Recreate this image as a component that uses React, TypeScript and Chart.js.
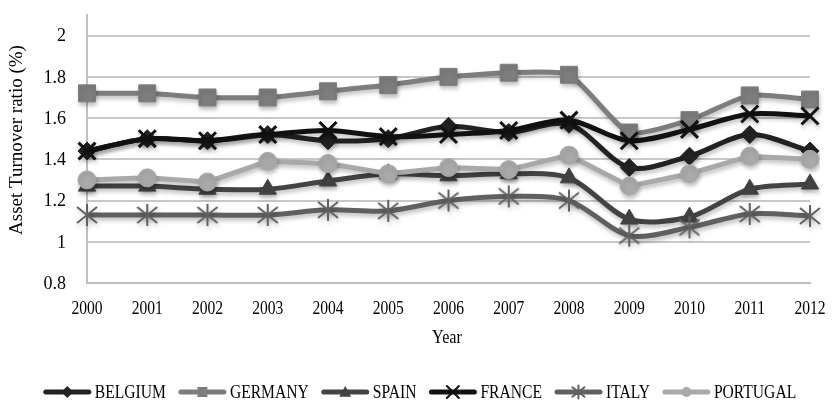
import React, { useEffect, useRef } from "react";
import { Chart, registerables } from "chart.js";

Chart.register(...registerables);

const years = ["2000", "2001", "2002", "2003", "2004", "2005", "2006", "2007", "2008", "2009", "2010", "2011", "2012"];
const belgium = [1.44, 1.5, 1.49, 1.52, 1.49, 1.5, 1.56, 1.53, 1.57, 1.36, 1.415, 1.52, 1.44];
const germany = [1.72, 1.72, 1.7, 1.7, 1.73, 1.76, 1.8, 1.82, 1.81, 1.53, 1.59, 1.71, 1.69];
const spain = [1.27, 1.27, 1.255, 1.255, 1.295, 1.33, 1.32, 1.33, 1.31, 1.11, 1.12, 1.255, 1.28];
const france = [1.44, 1.5, 1.49, 1.52, 1.54, 1.51, 1.52, 1.54, 1.59, 1.49, 1.545, 1.62, 1.61];
const italy = [1.13, 1.13, 1.13, 1.13, 1.155, 1.15, 1.2, 1.22, 1.2, 1.03, 1.07, 1.135, 1.125];
const portugal = [1.3, 1.31, 1.29, 1.39, 1.38, 1.33, 1.36, 1.35, 1.42, 1.27, 1.33, 1.415, 1.4];
const yTickValues = [0.8, 1, 1.2, 1.4, 1.6, 1.8, 2];
const yTickLabels = ["0.8", "1", "1.2", "1.4", "1.6", "1.8", "2"];
const xTitle = "Year";
const yTitle = "Asset Turnover ratio (%)";

const FONT = "'Liberation Serif', 'Times New Roman', serif";

type Series = { label: string; data: number[]; color: string; style: string; radius: number; tension: number };

const series: Series[] = [
  { label: "BELGIUM", data: belgium, color: "#222222", style: "rectRot", radius: 9, tension: 0.3 },
  { label: "GERMANY", data: germany, color: "#7d7d7d", style: "rect", radius: 12, tension: 0.2 },
  { label: "SPAIN", data: spain, color: "#434343", style: "triangle", radius: 10, tension: 0.3 },
  { label: "FRANCE", data: france, color: "#111111", style: "crossRot", radius: 12, tension: 0.3 },
  { label: "ITALY", data: italy, color: "#606060", style: "asterisk", radius: 12, tension: 0.3 },
  { label: "PORTUGAL", data: portugal, color: "#a9a9a9", style: "circle", radius: 9, tension: 0 },
];

function drawMarker(ctx: CanvasRenderingContext2D, style: string, x: number, y: number, r: number, color: string, lw = 2) {
  ctx.fillStyle = color;
  ctx.strokeStyle = color;
  ctx.lineWidth = lw;
  ctx.beginPath();
  if (style === "rectRot") {
    ctx.moveTo(x, y - r);
    ctx.lineTo(x + r, y);
    ctx.lineTo(x, y + r);
    ctx.lineTo(x - r, y);
    ctx.closePath();
    ctx.fill();
  } else if (style === "rect") {
    ctx.rect(x - r, y - r, 2 * r, 2 * r);
    ctx.fill();
  } else if (style === "triangle") {
    ctx.moveTo(x, y - r);
    ctx.lineTo(x + r, y + r * 0.8);
    ctx.lineTo(x - r, y + r * 0.8);
    ctx.closePath();
    ctx.fill();
  } else if (style === "crossRot") {
    ctx.moveTo(x - r, y - r);
    ctx.lineTo(x + r, y + r);
    ctx.moveTo(x + r, y - r);
    ctx.lineTo(x - r, y + r);
    ctx.stroke();
  } else if (style === "asterisk") {
    ctx.moveTo(x - r, y - r * 0.8);
    ctx.lineTo(x + r, y + r * 0.8);
    ctx.moveTo(x + r, y - r * 0.8);
    ctx.lineTo(x - r, y + r * 0.8);
    ctx.moveTo(x, y - r * 1.1);
    ctx.lineTo(x, y + r * 1.1);
    ctx.stroke();
  } else {
    ctx.arc(x, y, r, 0, Math.PI * 2);
    ctx.fill();
  }
}

function asteriskImage(color: string): HTMLCanvasElement {
  const c = document.createElement("canvas");
  c.width = 24;
  c.height = 26;
  const ctx = c.getContext("2d")!;
  drawMarker(ctx, "asterisk", 12, 13, 10, color, 2);
  return c;
}

function squeezedText(ctx: CanvasRenderingContext2D, text: string, x: number, y: number, sx: number, align: CanvasTextAlign) {
  ctx.save();
  ctx.translate(x, y);
  ctx.scale(sx, 1);
  ctx.textAlign = align;
  ctx.textBaseline = "middle";
  ctx.fillText(text, 0, 0);
  ctx.restore();
}

const LEGEND_Y = 392;
const LEGEND_CENTER_X = 420;
const ICON_W = 47;
const ICON_GAP = 4;
const ITEM_GAP = 13;
const LEGEND_SX = 0.8;

const textPlugin = {
  id: "texts",
  afterDraw(chart: any) {
    const ctx: CanvasRenderingContext2D = chart.ctx;
    const xs = chart.scales.x;
    const ys = chart.scales.y;
    ctx.save();
    ctx.fillStyle = "#000";

    ctx.font = `18px ${FONT}`;
    yTickValues.forEach((v, i) => {
      squeezedText(ctx, yTickLabels[i], 66, ys.getPixelForValue(v) + 1, 1, "right");
    });

    ctx.font = `19px ${FONT}`;
    years.forEach((y, i) => {
      squeezedText(ctx, y, xs.getPixelForValue(i), 309, 0.82, "center");
    });
    squeezedText(ctx, xTitle, 447, 338, 0.85, "center");

    ctx.save();
    ctx.translate(17, 140);
    ctx.rotate(-Math.PI / 2);
    ctx.textAlign = "center";
    ctx.textBaseline = "middle";
    ctx.fillText(yTitle, 0, 0);
    ctx.restore();

    ctx.font = `19.5px ${FONT}`;
    const widths = series.map((s) => ctx.measureText(s.label).width * LEGEND_SX);
    const total = widths.reduce((a, w) => a + ICON_W + ICON_GAP + w, 0) + ITEM_GAP * (series.length - 1);
    let x = LEGEND_CENTER_X - total / 2;
    series.forEach((s, i) => {
      ctx.strokeStyle = s.color;
      ctx.lineWidth = 5;
      ctx.lineCap = "round";
      ctx.beginPath();
      ctx.moveTo(x + 2, LEGEND_Y);
      ctx.lineTo(x + ICON_W - 2, LEGEND_Y);
      ctx.stroke();
      const r = s.style === "rect" ? 5 : s.style === "circle" ? 5 : 6;
      drawMarker(ctx, s.style, x + ICON_W / 2, LEGEND_Y, r, s.color);
      ctx.fillStyle = "#000";
      squeezedText(ctx, s.label, x + ICON_W + ICON_GAP, LEGEND_Y + 1, LEGEND_SX, "left");
      x += ICON_W + ICON_GAP + widths[i] + ITEM_GAP;
    });
    ctx.restore();
  },
};

const shadowPlugin = {
  id: "shadow",
  beforeDatasetsDraw(chart: any) {
    const ctx = chart.ctx;
    ctx.save();
    ctx.shadowColor = "rgba(0,0,0,0.25)";
    ctx.shadowBlur = 4;
    ctx.shadowOffsetX = 1;
    ctx.shadowOffsetY = 3;
  },
  afterDatasetsDraw(chart: any) {
    chart.ctx.restore();
  },
};

export default function App() {
  const ref = useRef<HTMLCanvasElement | null>(null);

  useEffect(() => {
    document.body.style.margin = "0";
    const chart = new Chart(ref.current!, {
      type: "line",
      data: {
        labels: years,
        datasets: series.map((s, i) => ({
          label: s.label,
          data: s.data,
          borderColor: s.color,
          backgroundColor: s.color,
          pointBackgroundColor: s.color,
          pointBorderColor: s.color,
          pointBorderWidth: s.style === "crossRot" ? 3 : 1,
          pointStyle: (s.style === "asterisk" ? asteriskImage(s.color) : s.style) as any,
          pointRadius: s.radius,
          pointHoverRadius: s.radius,
          borderWidth: 5,
          tension: s.tension,
          fill: false,
          order: series.length - i,
        })),
      },
      options: {
        animation: false,
        responsive: false,
        maintainAspectRatio: false,
        layout: { padding: { left: 0, right: 22, top: 12, bottom: 0 } },
        plugins: {
          tooltip: { enabled: false },
          legend: { display: false },
        },
        scales: {
          x: {
            afterFit: (axis: any) => {
              axis.paddingLeft = 0;
              axis.paddingRight = 0;
              axis.height = 118;
            },
            grid: { display: false, drawTicks: false },
            border: { display: true, color: "#bfbfbf", width: 2 },
            ticks: { display: false },
          },
          y: {
            min: 0.8,
            max: 2.1,
            afterBuildTicks: (axis: any) => {
              axis.ticks = yTickValues.map((v) => ({ value: v }));
            },
            afterFit: (axis: any) => {
              axis.paddingTop = 0;
              axis.paddingBottom = 0;
              axis.width = 87;
            },
            grid: { color: "#c8c8c8", lineWidth: 2, drawTicks: false },
            border: { display: true, color: "#bfbfbf", width: 2 },
            ticks: { display: false },
          },
        },
      },
      plugins: [shadowPlugin, textPlugin],
    });
    return () => chart.destroy();
  }, []);

  return (
    <div style={{ width: 832, height: 401, background: "#fff" }}>
      <canvas ref={ref} width={832} height={401} style={{ display: "block" }} />
    </div>
  );
}
